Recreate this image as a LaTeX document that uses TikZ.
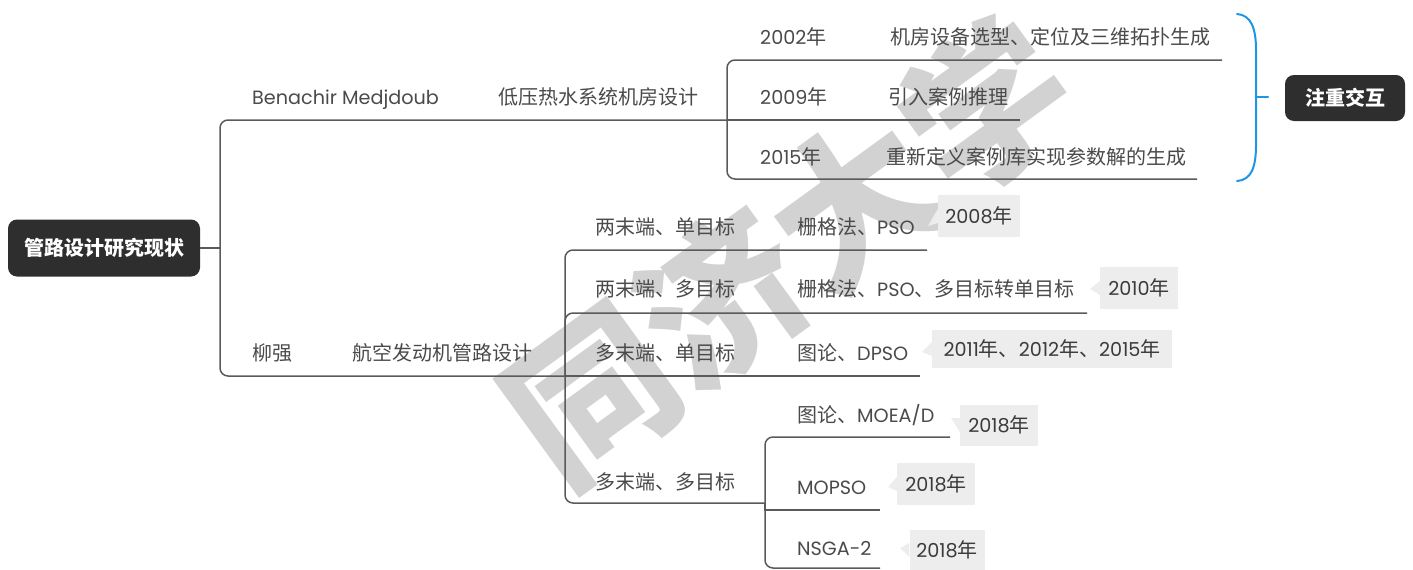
\documentclass[tikz,border=0pt]{standalone}
\usepackage{fontspec}
\setmainfont{Poppins}[Scale=0.96]
\newfontfamily\cjk{Noto Sans CJK SC}
\newcommand\zh[1]{{\cjk #1}}
\definecolor{lncol}{HTML}{5A5A5A}
\definecolor{txtcol}{HTML}{4A4A4A}
\definecolor{darkbox}{HTML}{2E2E2E}
\definecolor{cfill}{HTML}{EDEDED}
\definecolor{bracecol}{HTML}{1E96E6}
\definecolor{wmcol}{HTML}{D2D2D2}
\tikzset{
  lbl/.style={anchor=base west, inner sep=0pt, text=txtcol, font=\fontsize{20}{24}\selectfont},
  ln/.style={draw=lncol, line width=1.5pt},
  rc/.style={rounded corners=8pt},
  darktopic/.style={fill=darkbox, rounded corners=9pt, text=white, inner sep=0pt,
    font=\cjk\bfseries\fontsize{20}{24}\selectfont},
  yr/.style={fill=cfill, inner sep=0pt, text=txtcol!80!black, font=\fontsize{20}{24}\selectfont},
  bracestyle/.style={draw=bracecol, line width=2pt, line cap=round},
}
\begin{document}
\begin{tikzpicture}[x=1pt,y=-1pt]
\useasboundingbox (0,0) rectangle (1413,570);
% watermark
\begin{scope}[blend mode=multiply]
\node[rotate=36, inner sep=0pt, text=wmcol, font=\cjk\bfseries\fontsize{163}{163}\selectfont] (wm) at (788,250) {同济大学};
\end{scope}

% root topics
\node[darktopic, minimum width=192pt, minimum height=57pt] (root) at (104,248) {管路设计研究现状};
\node[darktopic, minimum width=120pt, minimum height=46pt] (focus) at (1345,98) {注重交互};

% junction / line-end coordinates
\coordinate (J0) at (220,248);
\coordinate (E1) at (727,120);
\coordinate (E2) at (565,376);
\coordinate (Y1) at (1222,60);
\coordinate (Y2) at (1020,120);
\coordinate (Y3) at (1197,179);
\coordinate (S1) at (927,250);
\coordinate (S2) at (1087,313);
\coordinate (S3) at (920,376);
\coordinate (S4) at (765,503);
\coordinate (M1) at (950,437);
\coordinate (M2) at (880,510);
\coordinate (M3) at (880,568);

% connectors
\draw[ln] (root.east) -- (J0);
\draw[ln,rc] (J0) |- (E1);
\draw[ln,rc] (J0) |- (E2);
\draw[ln,rc] (E1) |- (Y1);
\draw[ln] (E1) -- (Y2);
\draw[ln,rc] (E1) |- (Y3);
\draw[ln,rc] (E2) |- (S1);
\draw[ln,rc] (E2) |- (S2);
\draw[ln] (E2) -- (S3);
\draw[ln,rc] (E2) |- (S4);
\draw[ln,rc] (S4) |- (M1);
\draw[ln] (S4) |- (M2);
\draw[ln,rc] (S4) |- (M3);

% top branch labels
\node[lbl] (bm) at (252,104) {Benachir Medjdoub};
\node[lbl] (dy) at (498,104) {\zh{低压热水系统机房设计}};
\node[lbl] (y02) at (760,44) {2002\zh{年}};
\node[lbl] (d02) at (890,44) {\zh{机房设备选型、定位及三维拓扑生成}};
\node[lbl] (y09) at (760,104) {2009\zh{年}};
\node[lbl] (d09) at (888,104) {\zh{引入案例推理}};
\node[lbl] (y15) at (760,164) {2015\zh{年}};
\node[lbl] (d15) at (886,164) {\zh{重新定义案例库实现参数解的生成}};

% bottom branch labels
\node[lbl] (lq) at (252,360) {\zh{柳强}};
\node[lbl] (hk) at (352,360) {\zh{航空发动机管路设计}};
\node[lbl] (a1) at (595,234) {\zh{两末端、单目标}};
\node[lbl] (b1) at (797,234) {\zh{栅格法、}PSO};
\node[lbl] (a2) at (595,296) {\zh{两末端、多目标}};
\node[lbl] (b2) at (797,296) {\zh{栅格法、}PSO\zh{、多目标转单目标}};
\node[lbl] (a3) at (595,360) {\zh{多末端、单目标}};
\node[lbl] (b3) at (797,360) {\zh{图论、}DPSO};
\node[lbl] (a4) at (595,489) {\zh{多末端、多目标}};
\node[lbl] (m1) at (797,422) {\zh{图论、}MOEA/D};
\node[lbl] (m2) at (797,494) {MOPSO};
\node[lbl] (m3) at (797,555) {NSGA-2};

% callouts
\node[yr, minimum width=82pt, minimum height=42pt] (c1) at (979,216) {2008\zh{年}};
\fill[cfill] ([yshift=7pt]c1.west) -- (928,226) -- ([yshift=-7pt]c1.west) -- cycle;
\node[yr, minimum width=78pt, minimum height=42pt] (c2) at (1139,288) {2010\zh{年}};
\fill[cfill] ([yshift=7pt]c2.west) -- (1090,289) -- ([yshift=-7pt]c2.west) -- cycle;
\node[yr, minimum width=240pt, minimum height=38pt] (c3) at (1052,349) {2011\zh{年、}2012\zh{年、}2015\zh{年}};
\fill[cfill] ([yshift=7pt]c3.west) -- (922,352) -- ([yshift=-7pt]c3.west) -- cycle;
\node[yr, minimum width=78pt, minimum height=41pt] (c4) at (999,425) {2018\zh{年}};
\fill[cfill] ([yshift=7pt]c4.west) -- (951,418) -- ([yshift=-7pt]c4.west) -- cycle;
\node[yr, minimum width=78pt, minimum height=42pt] (c5) at (936,484) {2018\zh{年}};
\fill[cfill] ([yshift=7pt]c5.west) -- (888,487) -- ([yshift=-7pt]c5.west) -- cycle;
\node[yr, minimum width=75pt, minimum height=40pt] (c6) at (947,550) {2018\zh{年}};
\fill[cfill] ([yshift=7pt]c6.west) -- (900,548) -- ([yshift=-7pt]c6.west) -- cycle;

% brace
\coordinate (BT) at (1256,97);
\coordinate (BT2) at (1268,97);
\draw[bracestyle] (1237,14) .. controls (1251,15) and (1256,28) .. (1256,50) -- (1256,145) .. controls (1256,168) and (1251,180) .. (1237,181);
\draw[bracestyle] (BT) -- (BT2);
\end{tikzpicture}
\end{document}
